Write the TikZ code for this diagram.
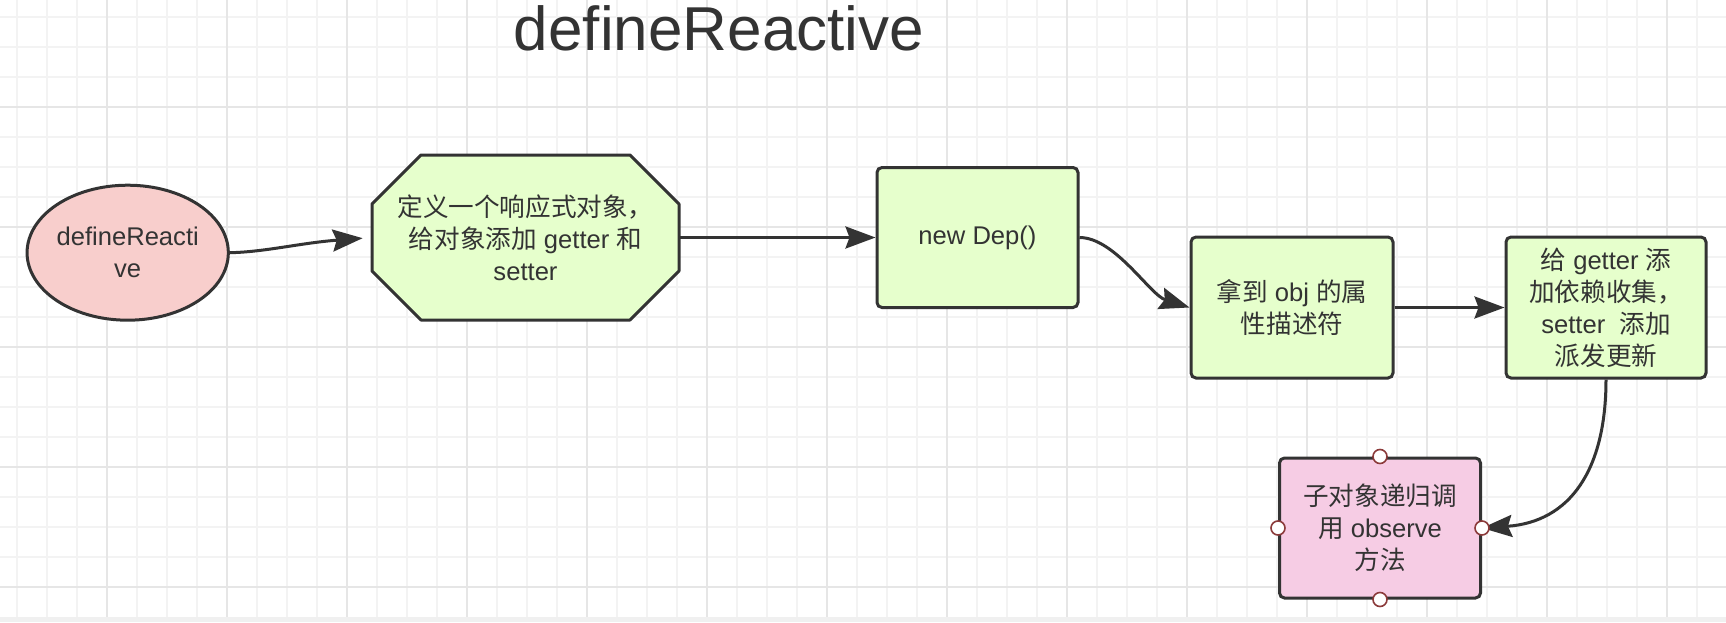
\documentclass[tikz,border=0pt]{standalone}
\usepackage{fontspec}
\setmainfont{Liberation Sans}
\newfontfamily\cjk{Noto Sans CJK SC}
\newcommand{\zh}[1]{{\cjk #1}}
\usetikzlibrary{arrows.meta,shapes.geometric}
\definecolor{ink}{HTML}{333333}
\definecolor{redfill}{HTML}{F8CECC}
\definecolor{greenfill}{HTML}{E6FFCC}
\definecolor{pinkfill}{HTML}{F6CCE4}
\definecolor{gridminor}{HTML}{F3F3F3}
\definecolor{gridmajor}{HTML}{E6E6E6}
\definecolor{handlecol}{HTML}{8B3A3A}
\definecolor{bandcol}{HTML}{F0F0F0}
\begin{document}
\begin{tikzpicture}[x=0.5pt,y=-0.5pt,
  txt/.style={text=ink, align=center, inner sep=0pt, font=\fontsize{12.8}{16}\selectfont},
  flowbox/.style={txt, draw=ink, line width=1.5pt, rounded corners=2.5pt},
  conn/.style={draw=ink, line width=1.5pt, -{Stealth[length=15pt,width=11pt,inset=2pt]}},
  handlept/.style={circle, draw=handlecol, fill=white, line width=0.8pt, minimum size=7pt, inner sep=0pt}]
% background and grid
\fill[white] (0,0) rectangle (1726,622);
\useasboundingbox (0,0) rectangle (1726,622);
\fill[bandcol] (0,617) rectangle (1726,622);
\foreach \i in {0,...,56} \draw[gridminor, line width=1pt] ({16.7+30*\i},0) -- ({16.7+30*\i},617);
\foreach \j in {0,...,19} \draw[gridminor, line width=1pt] (0,{16.7+30*\j}) -- (1726,{16.7+30*\j});
\foreach \i in {0,...,13} \draw[gridmajor, line width=1pt] ({106.7+120*\i},0) -- ({106.7+120*\i},617);
\foreach \j in {0,...,4} \draw[gridmajor, line width=1pt] (0,{106.7+120*\j}) -- (1726,{106.7+120*\j});
% title
\node[text=ink, font=\fontsize{31}{36}\selectfont, anchor=base, inner sep=0pt] (title) at (719,50) {defineReactive};
% nodes
\node[txt, ellipse, draw=ink, line width=1.5pt, fill=redfill, minimum width=100pt, minimum height=67.5pt] (ell) at (127.7,252.7) {defineReacti\\ve};
\filldraw[fill=greenfill, draw=ink, line width=1.5pt, line join=round]
  (421,155) -- (630,155) -- (679,204) -- (679,271) -- (630,320) -- (421,320) -- (372,271) -- (372,204) -- cycle;
\node[txt, minimum width=153.5pt, minimum height=82.5pt] (oct) at (525.5,237.5)
  {\zh{定义一个响应式对象，}\\ \zh{给对象添加} getter \zh{和}\\setter};
\node[flowbox, fill=greenfill, minimum width=100.5pt, minimum height=70pt] (dep) at (977.5,237.5) {new Dep()};
\node[flowbox, fill=greenfill, minimum width=101pt, minimum height=70.5pt] (obj) at (1292,307.5)
  {\zh{拿到} obj \zh{的属}\\\zh{性描述符}};
\node[flowbox, fill=greenfill, minimum width=100pt, minimum height=70.5pt] (gs) at (1606,307.5)
  {\zh{给} getter \zh{添}\\\zh{加依赖收集，}\\setter\ \ \zh{添加}\\\zh{派发更新}};
\node[flowbox, fill=pinkfill, minimum width=100.5pt, minimum height=70pt] (pk) at (1380,528)
  {\zh{子对象递归调}\\\zh{用} observe\\\zh{方法}};
% connectors
\draw[conn, shorten >=4.5pt] (ell.east) .. controls (265,252) and (300,243) .. (oct.west);
\draw[conn] (oct.east) -- (dep.west);
\draw[conn] (dep.east) .. controls (1115,237.5) and (1150,295) .. (obj.west);
\draw[conn] (obj.east) -- (gs.west);
\draw[conn] (gs.south) .. controls (1606,470) and (1570,522) .. (pk.east);
% selection handles
\node[handlept] (hn) at (pk.north) {};
\node[handlept] (hs) at (pk.south) {};
\node[handlept] (hw) at (pk.west) {};
\node[handlept] (he) at (pk.east) {};
\end{tikzpicture}
\end{document}
